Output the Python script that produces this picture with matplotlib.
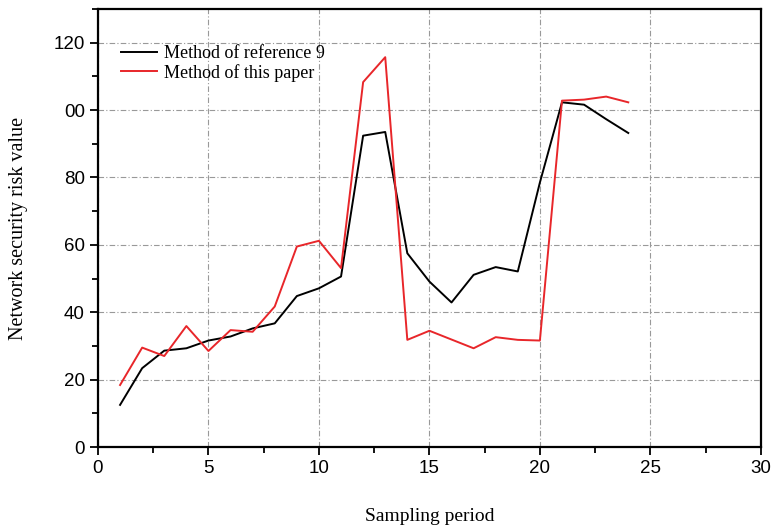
import matplotlib
matplotlib.use("Agg")
import matplotlib.pyplot as plt
from matplotlib.ticker import MultipleLocator, FixedLocator

# sampling periods and risk values
periods = list(range(1, 25))
ref9 = [12.5, 23.4, 28.6, 29.3, 31.6, 32.8, 35.2, 36.7, 44.8, 47.1, 50.6, 92.4,
        93.5, 57.5, 49.1, 42.9, 51.1, 53.4, 52.1, 78.5, 102.3, 101.6, 97.3, 93.2]
this_paper = [18.4, 29.5, 27.0, 35.9, 28.5, 34.7, 34.2, 41.7, 59.5, 61.2, 53.1, 108.3,
              115.7, 31.8, 34.5, 31.9, 29.3, 32.6, 31.8, 31.6, 102.8, 103.1, 104.0, 102.3]
y_ticks = [0, 20, 40, 60, 80, 100, 120]
y_labels = ["0", "20", "40", "60", "80", "00", "120"]

serif = "Liberation Serif"
sans = "Liberation Sans"

fig = plt.figure(figsize=(7.74, 5.29), dpi=100)
ax = fig.add_axes([0.1266, 0.155, 0.8564, 0.828])

ax.plot(periods, ref9, color="black", lw=1.4, label="Method of reference 9")
ax.plot(periods, this_paper, color="#e8262a", lw=1.4, label="Method of this paper")

ax.set_xlim(0, 30)
ax.set_ylim(0, 130)
ax.xaxis.set_major_locator(MultipleLocator(5))
ax.xaxis.set_minor_locator(MultipleLocator(2.5))
ax.yaxis.set_major_locator(FixedLocator(y_ticks))
ax.set_yticklabels(y_labels)
ax.yaxis.set_minor_locator(MultipleLocator(10))

ax.grid(True, which="major", color="#999999", ls=(0, (5, 2, 1, 2)), lw=0.8)
ax.tick_params(which="both", direction="out", width=1.3, labelsize=13.5)
ax.tick_params(which="major", length=6)
ax.tick_params(which="minor", length=4)
for lbl in ax.get_xticklabels() + ax.get_yticklabels():
    lbl.set_family(sans)
for sp in ax.spines.values():
    sp.set_linewidth(1.6)

ax.set_xlabel("Sampling period", family=serif, fontsize=14, labelpad=22)
ax.set_ylabel("Network security risk value", family=serif, fontsize=14.5, labelpad=18)

ax.legend(loc="upper left", bbox_to_anchor=(0.01, 0.955), frameon=False,
          prop={"family": serif, "size": 13}, handlelength=2.0,
          handletextpad=0.4, labelspacing=0.1)

fig.savefig("out.png", dpi=100)
